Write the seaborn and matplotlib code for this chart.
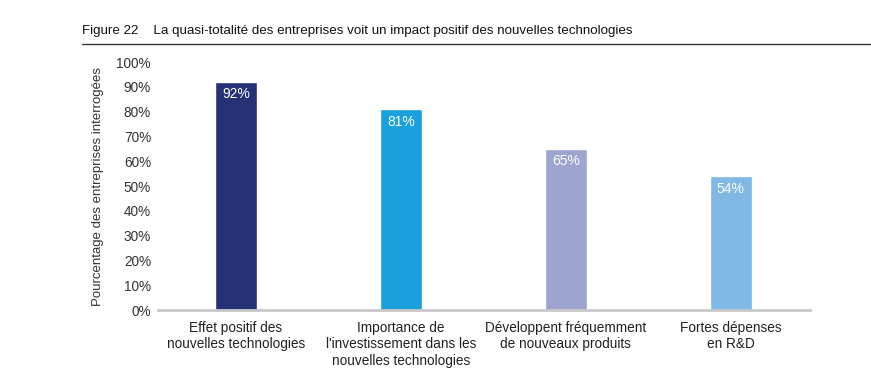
# Libraries
# ===================================================
import pandas as pd
import seaborn as sns
import matplotlib.pyplot as plt
from matplotlib.ticker import PercentFormatter, FixedLocator

# Data
# ===================================================
categories = [
    'Effet positif des\nnouvelles technologies',
    "Importance de\nl'investissement dans les\nnouvelles technologies",
    'Développent fréquemment\nde nouveaux produits',
    'Fortes dépenses\nen R&D',
]
values = [92, 81, 65, 54]
colors = ['#273276', '#1aa0de', '#9ca4cf', '#80b9e6']

df = pd.DataFrame({'categorie': categories, 'valeur': values})

# Visualization
# ===================================================
sns.set_style('white')
plt.rcParams.update({'font.family': ['Liberation Sans', 'DejaVu Sans'], 'font.size': 10})

fig = plt.figure(figsize=(8.71, 3.76), dpi=100)
ax = fig.add_axes([0.1814, 0.1755, 0.7486, 0.6595])

sns.barplot(data=df, x='categorie', y='valeur', hue='categorie', palette=colors,
            width=0.255, legend=False, saturation=1, ax=ax)

# Bar labels
for p, v in zip(ax.patches, values):
    ax.text(p.get_x() + p.get_width() / 2, v - 2.2, f'{v}%', ha='center', va='top',
            color='white', fontsize=10)

# Axes
ax.set_ylim(0, 100)
ax.set_xlim(-0.473, 3.48)
ax.set_yticks(range(0, 101, 10))
ax.yaxis.set_major_formatter(PercentFormatter(decimals=0))
ax.tick_params(axis='y', length=0, labelsize=9.8, labelcolor='#333333', pad=5)
ax.tick_params(axis='x', length=0, labelsize=9.8, labelcolor='#222222', pad=8)
ax.xaxis.set_minor_locator(FixedLocator([-0.473, 3.48]))
ax.tick_params(axis='x', which='minor', length=4, width=1, color='#c8c8c8')
ax.set_xlabel('')
ax.set_ylabel('Pourcentage des entreprises interrogées', fontsize=9.5, color='#333333', labelpad=9)
for s in ['top', 'right', 'left']:
    ax.spines[s].set_visible(False)
ax.spines['bottom'].set_color('#c8c8c8')
ax.spines['bottom'].set_linewidth(2)

# Title and rule
fig.text(82 / 871, 1 - 31 / 376, 'Figure 22    La quasi-totalité des entreprises voit un impact positif des nouvelles technologies',
         fontsize=9.6, va='center', ha='left', color='#111111')
fig.add_artist(plt.Line2D([82 / 871, 1], [1 - 44 / 376, 1 - 44 / 376], color='#333333', linewidth=1))

plt.savefig('out.png', dpi=100)
